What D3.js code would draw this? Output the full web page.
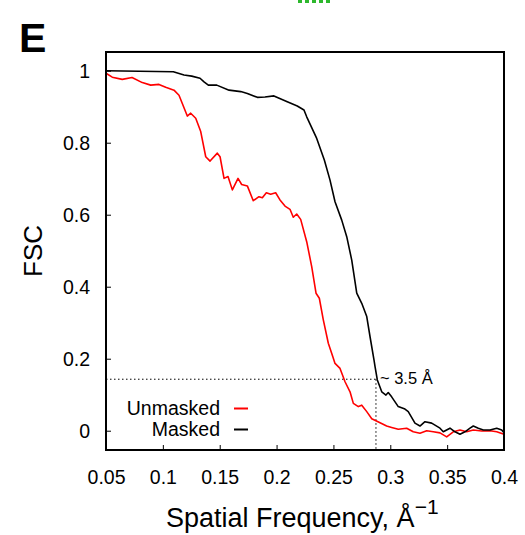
<!DOCTYPE html>
<html><head><meta charset="utf-8">
<script src="https://cdn.jsdelivr.net/npm/d3@7"></script>
<style>body{margin:0;background:#fff}svg{display:block}text{font-family:"Liberation Sans",Arial,sans-serif}</style>
</head><body><svg id="c" width="525" height="535"></svg>
<script>
const xTicks=[0.05,0.1,0.15,0.2,0.25,0.3,0.35,0.4];
const yTicks=[0,0.2,0.4,0.6,0.8,1];
const maskedX=[.050,.1092,.1186,.1254,.1327,.1362,.1400,.1474,.1582,.1685,.1743,.1831,.1898,.1977,.2094,.2182,.2241,.2265,.2353,.2420,.2470,.2514,.2573,.2617,.2661,.2705,.2749,.2793,.2822,.2857,.2866,.2886,.2925,.2962,.2982,.3012,.3070,.3129,.3158,.3217,.3261,.3305,.3364,.3437,.3466,.3525,.3569,.3613,.3657,.3701,.3730,.3774,.3818,.3877,.3936,.3980,.4000];
const maskedY=[1.000,.997,.988,.985,.979,.969,.960,.960,.946,.942,.937,.926,.927,.930,.914,.902,.891,.872,.812,.752,.696,.636,.585,.539,.474,.382,.354,.317,.261,.196,.178,.141,.108,.099,.106,.094,.067,.060,.053,.021,.013,.025,.021,.007,-.003,.007,-.003,-.010,-.003,.007,.013,.007,.002,.002,.007,.002,-.006];
const unmaskedX=[.050,.0555,.0643,.0729,.0819,.0893,.0966,.1025,.1098,.1142,.1215,.1245,.1289,.1333,.1377,.1415,.1479,.1503,.1538,.1573,.1611,.1661,.1693,.1743,.1795,.1845,.1875,.1910,.1948,.1992,.2030,.2074,.2118,.2147,.2177,.2212,.2265,.2309,.2347,.2376,.2411,.2455,.2494,.2514,.2558,.2602,.2646,.2675,.2719,.2749,.2793,.2837,.2910,.2968,.3012,.3070,.3144,.3202,.3261,.3320,.3378,.3437,.3496,.3554,.3613,.3672,.3730,.3804,.3877,.3936,.3994];
const unmaskedY=[.993,.982,.976,.981,.967,.960,.962,.954,.946,.932,.874,.882,.868,.831,.761,.749,.771,.761,.701,.706,.669,.701,.684,.680,.639,.650,.647,.661,.657,.661,.641,.624,.615,.593,.602,.587,.525,.456,.382,.368,.308,.243,.206,.187,.173,.136,.108,.076,.067,.071,.053,.033,.022,.013,.009,.004,.007,-.003,-.007,.000,-.003,-.006,-.017,-.003,.002,-.003,.002,-.001,.000,-.003,-.009];
const seriesNames=["Unmasked","Masked"];
const seriesColors=["#ff0000","#000000"];
const threshold=0.143, resFreq=0.2874, resLabel="~ 3.5 Å";

const svg=d3.select("#c");
const L=106,T=52,W=398,H=398;
const x=d3.scaleLinear().domain([0.05,0.4]).range([L,L+W]);
const y=d3.scaleLinear().domain([-0.0536,1.052]).range([T+H,T]);
const fs="19.5px";

// stray green mark from neighbouring panel
svg.append("line").attr("x1",298).attr("x2",333).attr("y1",1.5).attr("y2",1.5)
  .attr("stroke","#2db82d").attr("stroke-width",3).attr("stroke-dasharray","4,3");

// panel letter
svg.append("text").attr("x",19).attr("y",52).attr("font-size","41px").attr("font-weight","bold").text("E");

// axes
const gx=svg.append("g").attr("transform",`translate(0,${T+H})`)
  .call(d3.axisBottom(x).tickValues(xTicks).tickSizeInner(-5).tickSizeOuter(0).tickFormat(d3.format("")));
gx.select(".domain").remove();
gx.selectAll("line").attr("stroke","#000");
gx.selectAll("text").attr("y",34).attr("dy",0).attr("font-size",fs).attr("fill","#000").attr("font-family","Liberation Sans, Arial, sans-serif");

const gy=svg.append("g").attr("transform",`translate(${L},0)`)
  .call(d3.axisLeft(y).tickValues(yTicks).tickSizeInner(-5).tickSizeOuter(0).tickFormat(d3.format("")));
gy.select(".domain").remove();
gy.selectAll("line").attr("stroke","#000");
gy.selectAll("text").attr("x",-16).attr("dy","0.36em").attr("font-size",fs).attr("fill","#000").attr("font-family","Liberation Sans, Arial, sans-serif");

// threshold dotted lines
svg.append("line").attr("x1",x(0.05)).attr("x2",x(resFreq)).attr("y1",y(threshold)).attr("y2",y(threshold))
  .attr("stroke","#000").attr("stroke-width",1).attr("stroke-dasharray","1.5,2.5");
svg.append("line").attr("x1",x(resFreq)).attr("x2",x(resFreq)).attr("y1",y(threshold)).attr("y2",T+H)
  .attr("stroke","#000").attr("stroke-width",1).attr("stroke-dasharray","1.5,2.5");

// curves
const line=d3.line().x(d=>x(d[0])).y(d=>y(d[1]));
const unm=unmaskedX.map((v,i)=>[v,unmaskedY[i]]);
const msk=maskedX.map((v,i)=>[v,maskedY[i]]);
svg.append("path").datum(unm).attr("d",line).attr("fill","none").attr("stroke",seriesColors[0]).attr("stroke-width",1.6).attr("stroke-linejoin","round");
svg.append("path").datum(msk).attr("d",line).attr("fill","none").attr("stroke",seriesColors[1]).attr("stroke-width",1.6).attr("stroke-linejoin","round");

// annotation
svg.append("text").attr("x",x(resFreq)+4).attr("y",y(threshold)+5).attr("font-size","16.5px").text(resLabel);

// legend
seriesNames.forEach((n,i)=>{
  const by=415+i*21;
  svg.append("text").attr("x",220).attr("y",by).attr("text-anchor","end").attr("font-size",fs).text(n);
  svg.append("line").attr("x1",234).attr("x2",248).attr("y1",by-6.5).attr("y2",by-6.5).attr("stroke",seriesColors[i]).attr("stroke-width",2);
});

// frame
svg.append("rect").attr("x",L).attr("y",T).attr("width",W).attr("height",H).attr("fill","none").attr("stroke","#000").attr("stroke-width",2);

// axis titles
svg.append("text").attr("transform","translate(42,251) rotate(-90)").attr("text-anchor","middle").attr("font-size","26px").text("FSC");
const xt=svg.append("text").attr("x",166).attr("y",527).attr("font-size","27px");
xt.append("tspan").text("Spatial Frequency, Å");
xt.append("tspan").attr("dy",-13).attr("font-size","21px").text("−1");
</script></body></html>
